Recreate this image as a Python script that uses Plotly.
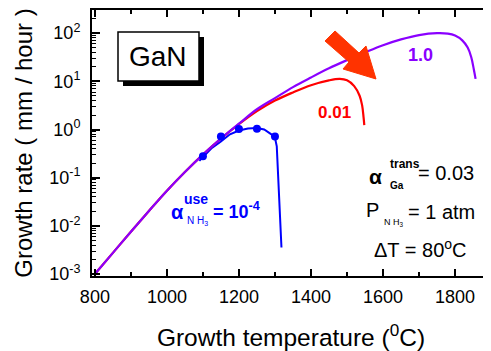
import plotly.graph_objects as go

# ---------------- data ----------------
temp_a1 = [800, 850, 900, 950, 1000, 1050, 1100, 1150, 1200, 1250, 1300, 1350, 1400, 1450,
           1500, 1550, 1600, 1650, 1700, 1750, 1780, 1800, 1820, 1835, 1845, 1852, 1857]
lograte_a1 = [-3.00, -2.56, -2.12, -1.69, -1.27, -0.88, -0.52, -0.19, 0.12, 0.42, 0.65, 0.88,
              1.08, 1.27, 1.44, 1.60, 1.75, 1.87, 1.96, 2.00, 1.99, 1.95, 1.85, 1.70, 1.50, 1.25, 1.05]

temp_a001 = [800, 850, 900, 950, 1000, 1050, 1100, 1150, 1200, 1250, 1300, 1350, 1400, 1450,
             1480, 1500, 1520, 1535, 1542, 1546, 1548]
lograte_a001 = [-3.00, -2.56, -2.12, -1.69, -1.27, -0.88, -0.52, -0.19, 0.11, 0.38, 0.60, 0.77,
                0.92, 1.02, 1.05, 1.02, 0.90, 0.70, 0.50, 0.25, 0.09]

temp_use = [1090, 1100, 1125, 1150, 1175, 1200, 1225, 1250, 1270, 1290, 1300, 1305, 1308,
            1311, 1314, 1317, 1318]
lograte_use = [-0.65, -0.57, -0.38, -0.25, -0.10, -0.02, 0.02, 0.03, 0.00, -0.10, -0.17,
               -0.35, -0.80, -1.30, -1.90, -2.30, -2.45]

temp_pts = [1100, 1150, 1200, 1250, 1300]
rate_pts = [0.28, 0.72, 1.02, 1.04, 0.72]

x_ticks = [800, 1000, 1200, 1400, 1600, 1800]
y_exps = [-3, -2, -1, 0, 1, 2]
y_ticktext = [f"10<sup>{e}</sup>" for e in y_exps]

# ---------------- figure ----------------
OFF = 8  # page body margin in the browser
W, H = 491 - OFF, 351 - OFF
L, R, T, B = 92 - OFF, 1, 10 - OFF, 75
PW, PH = W - L - R, H - T - B


def px(x):  # window pixel x -> paper
    return (x - OFF - L) / PW


def py(y):  # window pixel y -> paper
    return (H - B - (y - OFF)) / PH


PURPLE = "#8A00FF"
RED = "#FF0000"
BLUE = "#0000FF"
FONT = "Liberation Sans, Arial, sans-serif"

fig = go.Figure()
fig.add_trace(go.Scatter(x=temp_use, y=[10 ** v for v in lograte_use], mode="lines",
                         line=dict(color=BLUE, width=2), showlegend=False))
fig.add_trace(go.Scatter(x=temp_a001, y=[10 ** v for v in lograte_a001], mode="lines",
                         line=dict(color=RED, width=2.2, shape="spline"), showlegend=False))
fig.add_trace(go.Scatter(x=temp_a1, y=[10 ** v for v in lograte_a1], mode="lines",
                         line=dict(color=PURPLE, width=2.2, shape="spline"), showlegend=False))
fig.add_trace(go.Scatter(x=temp_pts, y=rate_pts, mode="markers",
                         marker=dict(color=BLUE, size=8), showlegend=False))

shapes = []
# GaN box with shadow
shapes.append(dict(type="rect", xref="paper", yref="paper",
                   x0=px(123), x1=px(204), y0=py(86), y1=py(37),
                   fillcolor="black", line=dict(width=0), layer="above"))
shapes.append(dict(type="rect", xref="paper", yref="paper",
                   x0=px(118), x1=px(199), y0=py(81), y1=py(32),
                   fillcolor="white", line=dict(color="black", width=1.5), layer="above"))
# big arrow
arrow_pts = [(325, 41), (335, 31), (359, 53), (366, 46), (376, 79), (343, 69), (349, 62)]
path = "M " + " L ".join(f"{px(a):.4f},{py(b):.4f}" for a, b in arrow_pts) + " Z"
shapes.append(dict(type="path", xref="paper", yref="paper", path=path,
                   fillcolor="#FF3300", line=dict(color="#FF3300", width=1), layer="above"))

ann = []


def add(text, x, y, size, color="black", bold=False, xanchor="center"):
    if bold:
        text = f"<b>{text}</b>"
    ann.append(dict(text=text, x=px(x), y=py(y), xref="paper", yref="paper",
                    xanchor=xanchor, yanchor="middle", showarrow=False,
                    font=dict(family=FONT, size=size, color=color)))


add("GaN", 158, 57, 28)
add("1.0", 420, 55, 18, PURPLE, True)
add("0.01", 334, 112, 17, RED, True)
# blue alpha label
add("α", 177, 212, 20, BLUE, True)
add("use", 196, 199, 14, BLUE, True)
add("N H<sub>3</sub>", 197, 221, 10, BLUE)
add("= 10<sup>-4</sup>", 211, 210, 18, BLUE, True, xanchor="left")
# right text block
add("α", 375, 176, 21, "black", True)
add("trans", 388, 164, 12, "black", True, xanchor="left")
add("Ga", 388, 185, 10, "black", True, xanchor="left")
add("= 0.03", 416, 173, 20, "black", xanchor="left")
add("P", 372, 210, 20)
add("N H<sub>3</sub>", 382, 222, 9, "black", xanchor="left")
add("= 1 atm", 406, 212, 20, "black", xanchor="left")
add("ΔT = 80<sup>o</sup>C", 420, 248, 20)

fig.update_layout(
    width=W, height=H,
    margin=dict(l=L, r=R, t=T, b=B, autoexpand=False),
    paper_bgcolor="white", plot_bgcolor="white",
    font=dict(family=FONT, color="black"),
    shapes=shapes, annotations=ann, showlegend=False,
)
fig.update_xaxes(
    range=[792, 1897], tickvals=x_ticks, ticks="inside", ticklen=7, tickwidth=2,
    tickcolor="black", showline=True, linewidth=2, linecolor="black", mirror="ticks",
    showgrid=False, zeroline=False, tickfont=dict(size=18), ticklabelstandoff=3,
    minor=dict(dtick=100, tick0=800, ticks="inside", ticklen=4, tickwidth=1.5,
               tickcolor="black", showgrid=False),
    title=dict(text="Growth temperature (<sup>0</sup>C)", font=dict(size=24.5), standoff=24),
)
fig.update_yaxes(
    type="log", range=[-3.04, 2.48],
    tickvals=[10 ** e for e in y_exps], ticktext=y_ticktext,
    ticks="inside", ticklen=8, tickwidth=2, tickcolor="black",
    showline=True, linewidth=2, linecolor="black", mirror=False,
    showgrid=False, zeroline=False, tickfont=dict(size=18), ticklabelstandoff=6,
    minor=dict(dtick="D1", ticks="inside", ticklen=4, tickwidth=1.2,
               tickcolor="black", showgrid=False),
    title=dict(text="Growth rate ( mm / hour )", font=dict(size=24), standoff=10),
)

fig.write_html("out.html")
